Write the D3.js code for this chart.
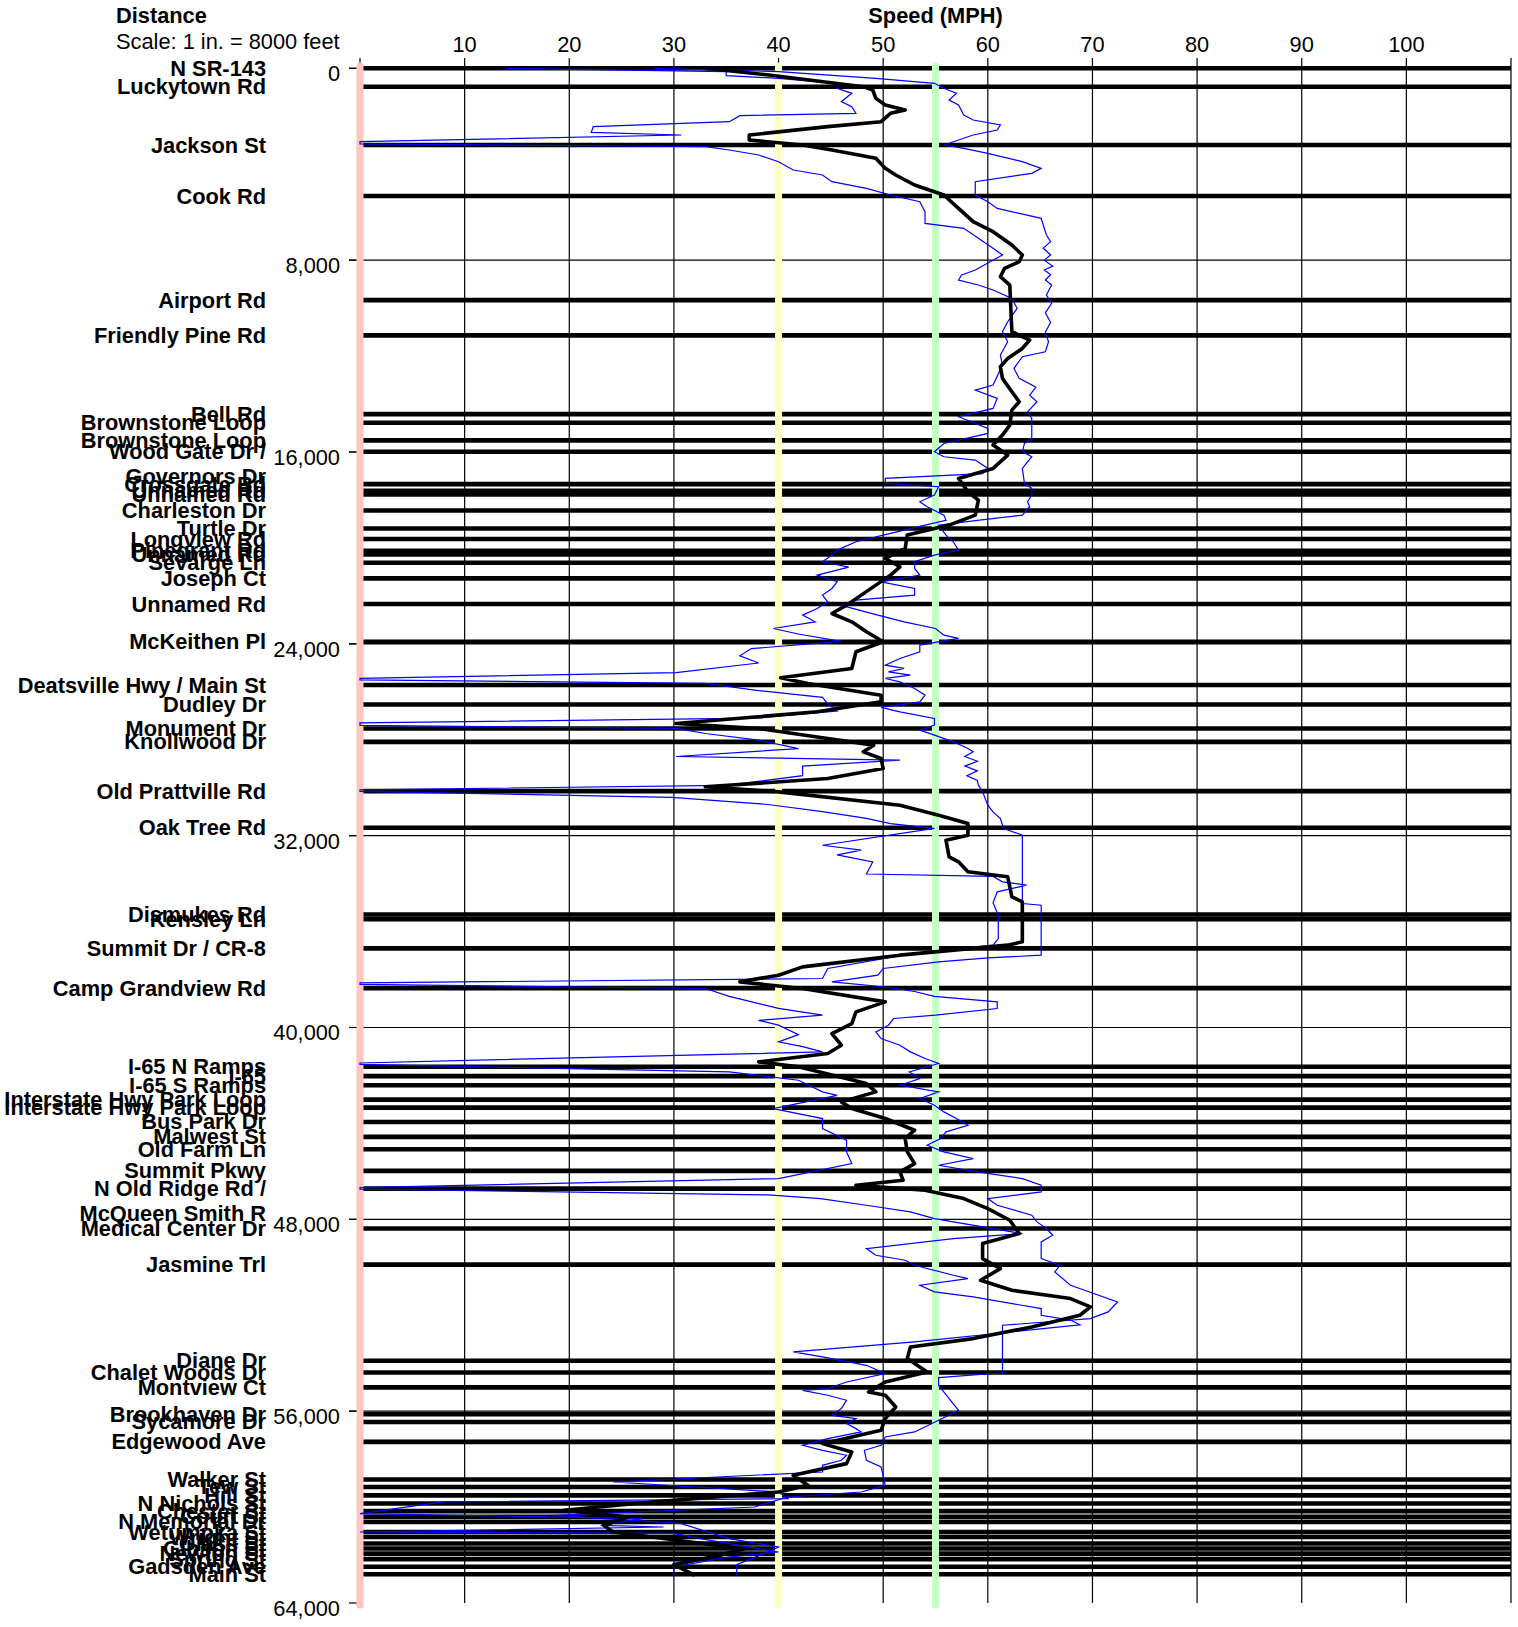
<!DOCTYPE html>
<html>
<head>
<meta charset="utf-8">
<script src="https://cdn.jsdelivr.net/npm/d3@7"></script>
<style>
  html, body { margin: 0; padding: 0; background: #fff; }
  svg { display: block; font-family: "Liberation Sans", Arial, sans-serif; }
</style>
</head>
<body>
<div id="chart"></div>
<script>
const speedTicks = [10, 20, 30, 40, 50, 60, 70, 80, 90, 100];
const distTicks = [0, 8000, 16000, 24000, 32000, 40000, 48000, 56000, 64000];
const refSpeeds = [0, 40, 55];
const refColors = ["#ffc4c4", "#ffffc0", "#c4ffc4"];

const streetNames = [
  "N SR-143", "Luckytown Rd", "Jackson St", "Cook Rd", "Airport Rd", "Friendly Pine Rd",
  "Bell Rd", "Brownstone Loop", "Brownstone Loop", "Wood Gate Dr /|Governors Dr",
  "Crossgate Rd", "Unnamed Rd", "Unnamed Rd", "Charleston Dr", "Turtle Dr", "Longview Rd",
  "Pinegrant Rd", "Unnamed Rd", "Sevarge Ln", "Joseph Ct", "Unnamed Rd", "McKeithen Pl",
  "Deatsville Hwy / Main St", "Dudley Dr", "Monument Dr", "Knollwood Dr", "Old Prattville Rd",
  "Oak Tree Rd", "Dismukes Rd", "Kensley Ln", "Summit Dr / CR-8", "Camp Grandview Rd",
  "I-65 N Ramps", "I-65", "I-65 S Ramps", "Interstate Hwy Park Loop", "Interstate Hwy Park Loop",
  "Bus Park Dr", "Malwest St", "Old Farm Ln", "Summit Pkwy", "N Old Ridge Rd /|McQueen Smith R",
  "Medical Center Dr", "Jasmine Trl", "Diane Dr", "Chalet Woods Dr", "Montview Ct",
  "Brookhaven Dr", "Sycamore Dr", "Edgewood Ave", "Walker St", "Tew St", "Hill St",
  "N Nichols St", "Chester St", "Court St", "N Memorial Dr", "Wetumpka St", "Wright St",
  "Glass St", "Gibson St", "Newton St", "Spring St", "Gadsden Ave", "Main St"
];
const streetDist = [
  0, 767, 3200, 5327, 9666, 11137,
  14420, 14780, 15517, 15990,
  17340, 17620, 17770, 18440, 19190, 19630,
  20120, 20270, 20620, 21270, 22340, 23915,
  25720, 26530, 27530, 28090, 30145,
  31670, 35290, 35480, 36700, 38360,
  41640, 42030, 42410, 43010, 43340,
  43940, 44560, 45080, 45980, 46720,
  48385, 49890, 53900, 54390, 55010,
  56130, 56450, 57280, 58850, 59160, 59510,
  59850, 60170, 60410, 60620, 61040, 61250,
  61520, 61730, 61940, 62170, 62490, 62800
];

// [distance (ft), speed (mph)]
const avgProfile = [
  [0,33],[280,39.1],[766,48.1],[905,49],[1253,49.3],[1530,50.2],[1740,52.1],[1879,50.7],[2226,49.8],
  [2434,44.7],[2782,37.2],[2990,37.2],[3199,42.3],[3407,45.1],[3755,49.3],[4172,50.2],[4450,51.2],
  [4867,53],[5285,55.8],[5841,57.2],[6397,58.6],[6814,60.5],[7370,62.3],[7787,63.3],[8065,63],
  [8343,61.6],[8691,61.2],[9038,62.1],[10986,62.3],[11333,64],[11681,63.3],[12098,61.9],[12445,61.2],
  [12932,61.4],[13488,62.3],[13905,63],[14253,62.3],[14879,62.1],[15296,61.4],[15712,60.5],[16130,61.9],
  [16686,60.5],[17103,57.2],[17659,58.1],[18007,59.1],[18633,58.8],[19050,56.3],[19467,52.3],[20023,52.1],
  [20440,50.2],[20788,51.6],[21136,50.7],[21553,49.3],[21970,47.9],[22387,46.5],[22735,45.1],[23083,47],
  [23500,48.4],[23915,50],[24332,47.4],[25028,47],[25417,40.2],[25654,42.8],[26141,49.8],[26419,49.8],
  [26836,43.7],[27323,30.2],[27531,38.1],[27948,44.7],[28226,49.1],[28504,48.1],[28783,49.8],[29200,50],
  [29617,44.7],[29964,33],[30173,40],[30729,51.6],[31146,55.3],[31494,58.1],[31979,58.1],[32187,56],
  [32883,56.3],[33091,57.2],[33508,58.1],[33717,61.9],[34551,62.3],[34760,63.3],[36428,63.3],[36567,61.9],
  [36984,51.6],[37471,42.3],[37819,40],[38097,36.3],[38375,42.3],[38931,50.2],[39348,47.4],[39835,47],
  [40252,45.1],[40739,46],[41086,44.7],[41434,38.1],[41642,41.9],[42337,48.4],[42685,49.3],[43102,46],
  [43380,47],[43797,50.2],[44284,53],[44632,52.1],[45188,52.3],[45675,53],[46022,51.6],[46370,51.9],
  [46578,47.4],[46787,54],[47135,57.7],[47551,60],[48038,62.1],[48594,63],[49011,59.5],[49637,59.5],
  [50054,61.2],[50541,59.3],[50958,62.3],[51305,67.9],[51653,69.8],[52001,68.8],[52488,64.2],[52974,58.6],
  [53322,52.6],[53809,52.3],[54156,53.5],[54365,54.2],[54782,50.2],[55199,48.6],[55337,50.2],[55824,51.2],
  [56310,50.2],[56797,49.8],[57354,44.2],[57701,47],[58188,46.5],[58675,41.4],[59092,42.8],[59370,40],
  [59787,27.9],[60135,19.5],[60413,25.6],[60761,23.3],[61039,24.2],[61456,31.6],[61734,36.7],[62012,34.4],
  [62400,30],[62850,32]
];

const lowProfile = [
  [0,14],[139,35],[306,35],[417,40],[626,45.6],[835,45.6],[1043,47],[1391,46],[1600,47],[1878,47.4],
  [1975,36.3],[2226,35.3],[2434,22.3],[2670,22.1],[2782,30.7],[3060,0],[3150,0],[3268,33],[3407,35.3],
  [3616,38.1],[3894,40],[4241,41.4],[4450,44.2],[4728,45.1],[5006,48.4],[5285,50.7],[5563,53.5],[5980,54],
  [6467,54],[6675,57.7],[7092,59.1],[7509,60.5],[7787,61.4],[8413,58.8],[8621,57.5],[8830,57.2],[9038,59.1],
  [9247,60.5],[9595,62.3],[10012,62.8],[10568,61.9],[10986,61.4],[11403,61.9],[11959,61.2],[12376,61.4],
  [13210,60.5],[13419,58.8],[13766,60.9],[14183,60.5],[14531,57.2],[15018,60],[15227,60],[15644,55.8],
  [15990,54.9],[16199,55.8],[16338,58.8],[16686,60],[16900,59.5],[17103,50.2],[17312,50.2],[17450,55.3],
  [17798,54.9],[18077,53.5],[18285,54.2],[18633,55.8],[18850,56],[19050,54],[19467,50],[19745,47.4],
  [20093,45.6],[20301,45.1],[20579,44.2],[20800,46.7],[21136,43.7],[21414,45.6],[21692,45.1],[21970,44.2],
  [22248,44.7],[22526,43.7],[22804,42.3],[23083,43.5],[23361,39.5],[23600,42],[23900,46],[24200,37.4],
  [24500,36.3],[24800,38.1],[25200,30.2],[25440,0],[25500,0],[25650,33],[25950,38.1],[26230,44.2],
  [26500,44.7],[26800,45.6],[27100,38],[27300,0],[27400,0],[27530,30.2],[27740,33],[28020,38.1],
  [28370,41.9],[28700,30.2],[28850,51.6],[29100,42.3],[29500,42.3],[29900,35],[30090,0],[30150,0],
  [30400,29.8],[30700,39],[31000,44.2],[31280,48.4],[31500,50.7],[31700,54.9],[32400,44.2],[32600,47.9],
  [32800,45.6],[33100,49],[33600,48.4],[33700,60.5],[33925,61.4],[34064,63.7],[34342,60.9],[34800,60.5],
  [35316,61],[36289,61],[36567,60.5],[36900,53],[37540,44.7],[37958,44.2],[38140,0],[38200,0],[38375,33],
  [38700,35.3],[39200,40],[39487,44.2],[39700,38.1],[39900,40],[40300,41.9],[40600,40],[40800,42.3],
  [41017,44.2],[41480,0],[41540,0],[41851,35.3],[42200,41.9],[42685,44.2],[42830,45.6],[43380,39.5],
  [43797,44.2],[44214,44.2],[44700,46.5],[45188,46.5],[45675,47],[46300,40],[46680,0],[46740,0],[46980,39],
  [47134,44],[47412,48.4],[47690,52.6],[47968,54.9],[48385,60.5],[48594,63.3],[48802,56.7],[49220,48.4],
  [49498,49.3],[49706,52.1],[49915,53],[50332,56.7],[50471,58.1],[50749,53.5],[51027,54.9],[51236,58.6],
  [51722,65.1],[52000,65.1],[52200,67.9],[52400,68.8],[53113,53],[53530,41.4],[53739,44.2],[54087,48.4],
  [54434,50.2],[54782,46.5],[55060,44.7],[55130,42.3],[55337,44.7],[55546,46.5],[55893,46],[56171,45.1],
  [56310,47.4],[56519,46.5],[56728,47.4],[56867,47.9],[57145,44.7],[57423,42.3],[57632,44.2],[57840,46.5],
  [58049,46],[58258,44.2],[58536,44.2],[58953,24.2],[59370,40],[59650,40.9],[59787,7.9],[60270,0],
  [60480,27],[60760,23],[60830,29],[61039,0],[61100,30],[61317,32.5],[61595,36.3],[61873,40],[62100,35],
  [62500,30],[62850,30]
];

const highProfile = [
  [0,28],[139,40],[417,49.3],[626,54.9],[835,55.8],[1043,57],[1322,56.3],[1530,57.2],[1948,57.7],
  [2156,58.6],[2365,61.2],[2573,60.9],[2782,58.6],[3199,55.8],[3337,57.7],[3546,60],[3894,63.3],[4172,65.1],
  [4380,64.2],[4728,58.8],[5285,58.8],[5563,60],[5841,60.9],[6258,65.1],[6953,65.6],[7231,66],[7500,65.3],
  [7787,66],[8000,65.4],[8250,66.2],[8413,65.4],[8600,66],[8830,65.5],[9038,66.1],[9456,65.6],[9800,66.1],
  [10200,65.5],[10600,66],[11000,65.5],[11403,65.8],[11820,65.5],[12029,63.3],[12515,62.5],[12932,63],
  [13300,64.6],[13627,64],[13905,64.7],[14322,63.8],[14600,64.2],[15435,64.2],[15644,63.5],[15990,63.3],
  [16199,64.2],[16686,63.3],[17312,63.5],[17520,64.2],[17798,64.2],[18077,63.8],[18285,64],[18633,63.3],
  [18850,59],[19050,55.3],[19467,56],[19745,56.7],[20093,57.2],[20301,54.9],[20579,53],[20857,53],
  [21136,53.5],[21414,49.8],[21692,53],[21970,53],[22180,47.4],[22400,46],[22804,49.5],[23083,52],
  [23361,55],[23640,55.8],[23776,57.2],[24054,53.5],[24332,53.5],[24610,51.6],[24890,50.2],[25028,52],
  [25167,50.5],[25306,52.6],[25445,50.2],[25584,51.6],[25860,53],[26140,54],[26420,53.5],[26650,49.8],
  [26836,51.6],[27114,54.9],[27392,54.9],[27600,53.5],[27809,54.9],[28087,56.7],[28365,58.1],[28504,58.6],
  [28700,57.8],[28900,59],[29100,57.8],[29300,59],[29500,58],[29700,59],[29895,59.1],[30173,59.5],
  [30729,60],[31007,60.5],[31285,61.2],[31700,61.5],[31979,63.3],[34829,63.3],[34900,65.1],[36984,65.1],
  [37100,60],[37262,55.3],[37540,50],[37819,49.5],[38097,45.1],[38300,50],[38500,53],[38700,54.9],
  [38931,60.9],[39209,60.9],[39487,55],[39626,51],[39904,50.5],[40182,49.3],[40460,49.8],[40739,51.6],
  [41017,52.6],[41295,54],[41503,55.3],[41851,52.5],[42129,53.5],[42407,51.6],[42685,55.3],[42963,53.5],
  [43241,54.9],[43519,55.8],[43797,57],[44075,58.1],[44353,56],[44632,55.5],[44910,54.2],[45188,55.8],
  [45466,58.6],[45744,55.3],[46022,59],[46300,63.3],[46578,65.1],[46856,65.1],[47134,60],[47412,60.9],
  [47829,64.2],[48107,64.7],[48385,65.6],[48663,66.2],[48940,65.1],[49637,65.1],[49915,66.9],[50193,66.4],
  [50749,67.9],[51444,72.4],[51861,71.5],[52139,69.8],[52418,61.4],[53530,61.4],[54400,61.4],[54600,55.3],
  [54921,55.3],[55476,56.3],[55963,57.2],[56380,55.3],[56867,53],[57075,50.2],[57423,49.8],[57632,48.2],
  [58049,48.4],[58328,49.8],[59092,50.2],[59370,47.9],[59579,40.9],[59996,37.7],[60343,18.6],[60691,30.7],
  [61317,35.3],[61664,40],[61873,39],[62400,36],[62850,36]
];

const width = 1518;
const height = 1627;
const fontSize = 21.8;

const x = d3.scaleLinear().domain([0, 110]).range([360, 1511]);
const y = d3.scaleLinear().domain([0, 64000]).range([68.3, 1603]);

const svg = d3.select("#chart").append("svg")
  .attr("width", width)
  .attr("height", height);

// header
svg.append("text").attr("x", 116).attr("y", 23)
  .attr("font-size", fontSize).attr("font-weight", "bold").text("Distance");
svg.append("text").attr("x", 116).attr("y", 49)
  .attr("font-size", fontSize).text("Scale: 1 in. = 8000 feet");
svg.append("text").attr("x", x(55)).attr("y", 23)
  .attr("font-size", fontSize).attr("font-weight", "bold").attr("text-anchor", "middle").text("Speed (MPH)");

// speed grid and labels
svg.append("g")
  .attr("stroke", "#000").attr("stroke-width", 1.2)
  .selectAll("line")
  .data(d3.range(0, 111, 10))
  .join("line")
  .attr("x1", d => x(d)).attr("x2", d => x(d))
  .attr("y1", 58).attr("y2", y(64000));

svg.append("g")
  .attr("font-size", fontSize).attr("text-anchor", "middle")
  .selectAll("text")
  .data(speedTicks)
  .join("text")
  .attr("x", d => x(d)).attr("y", 52)
  .text(d => d);

// distance grid and labels
svg.append("g")
  .attr("stroke", "#000").attr("stroke-width", 1.2)
  .selectAll("line")
  .data(distTicks.slice(0, -1))
  .join("line")
  .attr("x1", 349).attr("x2", x(110))
  .attr("y1", d => y(d)).attr("y2", d => y(d));

svg.append("g")
  .attr("stroke", "#000").attr("stroke-width", 1.2)
  .selectAll("line")
  .data(distTicks)
  .join("line")
  .attr("x1", 349).attr("x2", 358)
  .attr("y1", d => y(d)).attr("y2", d => y(d));

svg.append("g")
  .attr("font-size", fontSize).attr("text-anchor", "end")
  .selectAll("text")
  .data(distTicks)
  .join("text")
  .attr("x", 340).attr("y", d => y(d) + 13)
  .text(d => d3.format(",")(d));

// cross streets
const streets = streetNames.map((name, i) => ({ name, dist: streetDist[i] }));

svg.append("g")
  .attr("stroke", "#000").attr("stroke-width", 4.6)
  .selectAll("line")
  .data(streets)
  .join("line")
  .attr("x1", x(0)).attr("x2", x(110))
  .attr("y1", d => y(d.dist)).attr("y2", d => y(d.dist));

const labels = svg.append("g")
  .attr("font-size", fontSize).attr("font-weight", "bold").attr("text-anchor", "end")
  .selectAll("text")
  .data(streets)
  .join("text")
  .attr("x", 266).attr("y", d => y(d.dist) + 7.5);

labels.selectAll("tspan")
  .data(d => d.name.split("|"))
  .join("tspan")
  .attr("x", 266)
  .attr("dy", (d, i) => i === 0 ? 0 : 25)
  .text(d => d);

// reference speeds
svg.append("g")
  .attr("stroke-width", 7).attr("stroke-linecap", "round")
  .selectAll("line")
  .data(refSpeeds)
  .join("line")
  .attr("stroke", (d, i) => refColors[i])
  .attr("x1", d => x(d)).attr("x2", d => x(d))
  .attr("y1", 66).attr("y2", y(64000) + 2);

// speed profiles
const line = d3.line()
  .x(d => x(d[1]))
  .y(d => y(d[0]));

svg.append("path")
  .datum(lowProfile)
  .attr("fill", "none").attr("stroke", "#0000ff").attr("stroke-width", 1.2)
  .attr("d", line);

svg.append("path")
  .datum(highProfile)
  .attr("fill", "none").attr("stroke", "#0000ff").attr("stroke-width", 1.2)
  .attr("d", line);

svg.append("path")
  .datum(avgProfile)
  .attr("fill", "none").attr("stroke", "#000").attr("stroke-width", 3.6)
  .attr("stroke-linejoin", "round")
  .attr("d", line);
</script>
</body>
</html>
